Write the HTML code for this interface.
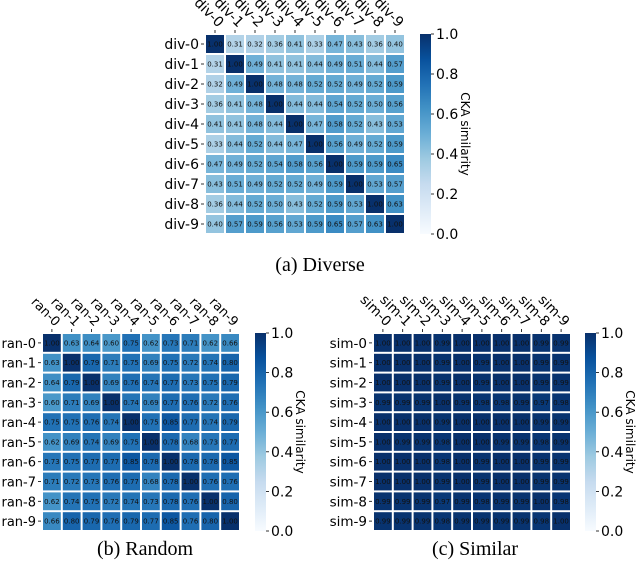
<!DOCTYPE html>
<html><head><meta charset="utf-8">
<style>
body{margin:0;background:#fff;}
svg{display:block;font-family:"DejaVu Sans","Liberation Sans",sans-serif;}
.cap{font-family:"Liberation Serif",serif;font-size:20px;}
</style></head>
<body>
<svg id="root" width="640" height="573" viewBox="0 0 640 573"></svg>
<script>
const divLabels=["div-0","div-1","div-2","div-3","div-4","div-5","div-6","div-7","div-8","div-9"];
const ranLabels=["ran-0","ran-1","ran-2","ran-3","ran-4","ran-5","ran-6","ran-7","ran-8","ran-9"];
const simLabels=["sim-0","sim-1","sim-2","sim-3","sim-4","sim-5","sim-6","sim-7","sim-8","sim-9"];
const cbTicks=[0,0.2,0.4,0.6,0.8,1.0];
const divValues=[
[1.00,0.31,0.32,0.36,0.41,0.33,0.47,0.43,0.36,0.40],
[0.31,1.00,0.49,0.41,0.41,0.44,0.49,0.51,0.44,0.57],
[0.32,0.49,1.00,0.48,0.48,0.52,0.52,0.49,0.52,0.59],
[0.36,0.41,0.48,1.00,0.44,0.44,0.54,0.52,0.50,0.56],
[0.41,0.41,0.48,0.44,1.00,0.47,0.58,0.52,0.43,0.53],
[0.33,0.44,0.52,0.44,0.47,1.00,0.56,0.49,0.52,0.59],
[0.47,0.49,0.52,0.54,0.58,0.56,1.00,0.59,0.59,0.65],
[0.43,0.51,0.49,0.52,0.52,0.49,0.59,1.00,0.53,0.57],
[0.36,0.44,0.52,0.50,0.43,0.52,0.59,0.53,1.00,0.63],
[0.40,0.57,0.59,0.56,0.53,0.59,0.65,0.57,0.63,1.00]];
const ranValues=[
[1.00,0.63,0.64,0.60,0.75,0.62,0.73,0.71,0.62,0.66],
[0.63,1.00,0.79,0.71,0.75,0.69,0.75,0.72,0.74,0.80],
[0.64,0.79,1.00,0.69,0.76,0.74,0.77,0.73,0.75,0.79],
[0.60,0.71,0.69,1.00,0.74,0.69,0.77,0.76,0.72,0.76],
[0.75,0.75,0.76,0.74,1.00,0.75,0.85,0.77,0.74,0.79],
[0.62,0.69,0.74,0.69,0.75,1.00,0.78,0.68,0.73,0.77],
[0.73,0.75,0.77,0.77,0.85,0.78,1.00,0.78,0.78,0.85],
[0.71,0.72,0.73,0.76,0.77,0.68,0.78,1.00,0.76,0.76],
[0.62,0.74,0.75,0.72,0.74,0.73,0.78,0.76,1.00,0.80],
[0.66,0.80,0.79,0.76,0.79,0.77,0.85,0.76,0.80,1.00]];
const simValues=[
[1.00,1.00,1.00,0.99,1.00,1.00,1.00,1.00,0.99,0.99],
[1.00,1.00,1.00,0.99,1.00,0.99,1.00,1.00,0.99,0.99],
[1.00,1.00,1.00,0.99,1.00,0.99,1.00,1.00,0.99,0.99],
[0.99,0.99,0.99,1.00,0.99,0.98,0.98,0.99,0.97,0.98],
[1.00,1.00,1.00,0.99,1.00,1.00,1.00,1.00,0.99,0.99],
[1.00,0.99,0.99,0.98,1.00,1.00,0.99,0.99,0.98,0.99],
[1.00,1.00,1.00,0.98,1.00,0.99,1.00,1.00,0.99,0.99],
[1.00,1.00,1.00,0.99,1.00,0.99,1.00,1.00,0.99,0.99],
[0.99,0.99,0.99,0.97,0.99,0.98,0.99,0.99,1.00,0.98],
[0.99,0.99,0.99,0.98,0.99,0.99,0.99,0.99,0.98,1.00]];

const NS="http://www.w3.org/2000/svg";
const root=document.getElementById('root');
const stops=[[247,251,255],[222,235,247],[198,219,239],[158,202,225],[107,174,214],[66,146,198],[33,113,181],[8,81,156],[8,48,107]];
function blues(v){v=Math.max(0,Math.min(1,v));const p=v*8,i=Math.min(7,Math.floor(p)),f=p-i;const a=stops[i],b=stops[i+1];
return `rgb(${a.map((c,k)=>Math.round(c+(b[k]-c)*f)).join(',')})`;}
function mk(tag,attrs,parent,name,inter){const e=document.createElementNS(NS,tag);for(const k in attrs)e.setAttribute(k,attrs[k]);


(parent||root).appendChild(e);return e;}

function heatmap(id,values,labels,x0,y0,size,cbx,cbTextX,titleX,lf){
  const g=mk('g',{},root,id+'-heatmap',false);
  const n=values.length,cs=size/n;
  const xs=i=>x0+i*cs, ys=i=>y0+i*cs;
  values.forEach((row,r)=>row.forEach((v,c)=>{
    mk('rect',{x:xs(c)+1,y:ys(r)+1,width:cs-2,height:cs-2,fill:blues(v)},g,id+'-cell',true);
    const t=mk('text',{x:xs(c)+cs/2,y:ys(r)+cs/2+2.5,'font-size':7,'text-anchor':'middle',fill:'#111'},g,id+'-cell-value',false);
    t.textContent=v.toFixed(2);
  }));
  labels.forEach((l,i)=>{
    const t=mk('text',{x:x0-6,y:ys(i)+cs/2+5,'font-size':lf,'text-anchor':'end',fill:'#000'},g,id+'-row-label',false);t.textContent=l;
    mk('line',{x1:x0-4,x2:x0-1,y1:ys(i)+cs/2,y2:ys(i)+cs/2,stroke:'#000','stroke-width':0.8},g,id+'-row-tick',false);
    const cx=xs(i)+cs/2;
    mk('line',{x1:cx,x2:cx,y1:y0-4,y2:y0-1,stroke:'#000','stroke-width':0.8},g,id+'-col-tick',false);
    const ct=mk('text',{x:cx+3,y:y0-6,'font-size':lf,'text-anchor':'end',fill:'#000',transform:`rotate(45 ${cx+3} ${y0-6})`},g,id+'-col-label',false);ct.textContent=l;
  });
  const gid=id+'-grad';
  const defs=mk('defs',{},g,id+'-defs',false);
  const lg=mk('linearGradient',{id:gid,x1:0,y1:1,x2:0,y2:0},defs,id+'-gradient',false);
  stops.forEach((s,i)=>mk('stop',{offset:i/8,'stop-color':`rgb(${s.join(',')})`},lg,id+'-grad-stop',false));
  mk('rect',{x:cbx,y:y0,width:11,height:size,fill:`url(#${gid})`},g,id+'-colorbar',false);
  const cy=v=>y0+size-v*size;
  cbTicks.forEach(v=>{
    mk('line',{x1:cbx+11,x2:cbx+14,y1:cy(v),y2:cy(v),stroke:'#000','stroke-width':0.8},g,id+'-colorbar-tick',false);
    const t=mk('text',{x:cbTextX,y:cy(v)+5,'font-size':14,fill:'#000'},g,id+'-colorbar-label',false);t.textContent=v.toFixed(1);
  });
  const tt=mk('text',{x:titleX,y:y0+size/2,'font-size':12,'text-anchor':'middle',fill:'#000',transform:`rotate(90 ${titleX} ${y0+size/2})`},g,id+'-colorbar-title',false);
  tt.textContent='CKA similarity';
}
heatmap('diverse',divValues,divLabels,205,34,200,420,436,461,14);
heatmap('random',ranValues,ranLabels,42,333,198,255,271,296,13);
heatmap('similar',simValues,simLabels,373,333,198,585,601,626,13.5);
[['(a)  Diverse',320,271,'caption-diverse'],['(b)  Random',145,555,'caption-random'],['(c)  Similar',475,555,'caption-similar']].forEach(([s,x,y,n])=>{
  const t=mk('text',{x:x,y:y,'text-anchor':'middle',class:'cap',fill:'#000'},root,n,false);t.textContent=s;
});
</script>
</body></html>
